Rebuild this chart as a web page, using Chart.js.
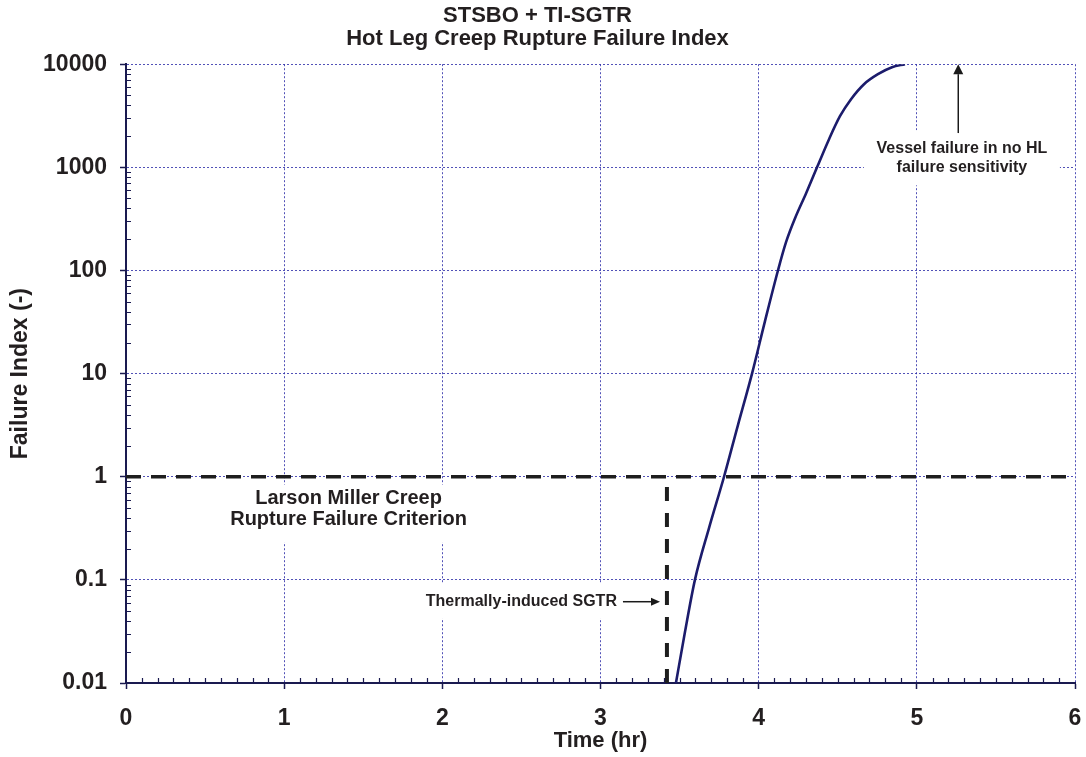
<!DOCTYPE html>
<html><head><meta charset="utf-8">
<script src="https://cdn.jsdelivr.net/npm/chart.js@4.4.0/dist/chart.umd.min.js"></script>
<style>html,body{margin:0;padding:0;background:#fff;} #wrap{width:1086px;height:757px;}</style>
</head><body><div id="wrap"><canvas id="c" width="1086" height="757"></canvas></div>
<script>
const titleLines = ['STSBO + TI-SGTR', 'Hot Leg Creep Rupture Failure Index'];
const xAxisTitle = 'Time (hr)';
const yAxisTitle = 'Failure Index (-)';
const xTickValues = [0, 1, 2, 3, 4, 5, 6];
const yTickValues = [0.01, 0.1, 1, 10, 100, 1000, 10000];
const yTickLabels = ['0.01', '0.1', '1', '10', '100', '1000', '10000'];

// Hot leg creep rupture failure index vs time
const timeHr = [3.477, 3.534, 3.597, 3.686, 3.781, 3.869, 3.958, 4.040, 4.122, 4.173, 4.230, 4.300, 4.369, 4.445, 4.514, 4.584, 4.666, 4.754, 4.843, 4.925];
const failureIndex = [0.01, 0.0312, 0.10, 0.318, 1.0, 3.17, 10, 32.3, 100, 188, 321, 561, 1000, 1875, 3130, 4580, 6400, 8000, 9350, 10000];

// Larson Miller criterion (index = 1)
const criterionTime = [0, 6];
const criterionIndex = [1, 1];
// Thermally-induced SGTR time marker
const sgtrTime = [3.42, 3.42];
const sgtrIndex = [0.01, 0.8];

const FONT = "'Liberation Sans', Arial, sans-serif";
const TXT = '#231f20';

function toPts(xs, ys) { return xs.map((x, i) => ({ x: x, y: ys[i] })); }

function arrow(ctx, x1, y1, x2, y2, headLen, halfW) {
  const ang = Math.atan2(y2 - y1, x2 - x1);
  const bx = x2 - headLen * Math.cos(ang), by = y2 - headLen * Math.sin(ang);
  ctx.save();
  ctx.strokeStyle = '#1a1a1a'; ctx.fillStyle = '#1a1a1a'; ctx.lineWidth = 1.5;
  ctx.beginPath(); ctx.moveTo(x1, y1); ctx.lineTo(bx, by); ctx.stroke();
  ctx.beginPath();
  ctx.moveTo(x2, y2);
  ctx.lineTo(bx + halfW * Math.sin(ang), by - halfW * Math.cos(ang));
  ctx.lineTo(bx - halfW * Math.sin(ang), by + halfW * Math.cos(ang));
  ctx.closePath(); ctx.fill();
  ctx.restore();
}

const minorTicks = {
  id: 'minorTicks',
  afterDraw(chart) {
    const { ctx, chartArea: a, scales: { x, y } } = chart;
    ctx.save();
    ctx.strokeStyle = '#1a1a50'; ctx.lineWidth = 1.2;
    ctx.beginPath();
    for (let i = 1; i < 60; i++) {
      if (i % 10 === 0) continue;
      const px = Math.round(x.getPixelForValue(i / 10)) + 0.5;
      ctx.moveTo(px, a.bottom); ctx.lineTo(px, a.bottom - 5);
    }
    for (let d = -2; d < 4; d++) {
      for (let k = 2; k <= 9; k++) {
        const py = Math.round(y.getPixelForValue(k * Math.pow(10, d))) + 0.5;
        ctx.moveTo(a.left, py); ctx.lineTo(a.left + 5, py);
      }
    }
    ctx.stroke();
    ctx.restore();
  }
};

const notes = {
  id: 'notes',
  afterDatasetsDraw(chart) {
    const { ctx, scales: { x, y } } = chart;
    ctx.save();
    ctx.textAlign = 'center'; ctx.textBaseline = 'middle'; ctx.fillStyle = TXT;

    // Vessel failure note
    let cx = x.getPixelForValue(5.285), cy = y.getPixelForValue(1250);
    ctx.fillStyle = '#fff';
    ctx.fillRect(cx - 98, cy - 27, 196, 55);
    ctx.fillStyle = TXT;
    ctx.font = 'bold 16px ' + FONT;
    ctx.fillText('Vessel failure in no HL', cx, cy - 9);
    ctx.fillText('failure sensitivity', cx, cy + 10);
    const ax = x.getPixelForValue(5.262);
    arrow(ctx, ax, y.getPixelForValue(2150), ax, y.getPixelForValue(10000), 10, 5);

    // Larson Miller note
    cx = x.getPixelForValue(1.407); cy = y.getPixelForValue(0.491);
    ctx.fillStyle = '#fff';
    ctx.fillRect(cx - 124, cy - 24, 248, 58);
    ctx.fillStyle = TXT;
    ctx.font = 'bold 20px ' + FONT;
    ctx.fillText('Larson Miller Creep', cx, cy - 10);
    ctx.fillText('Rupture Failure Criterion', cx, cy + 11);

    // SGTR note
    const rx = x.getPixelForValue(3.104); cy = y.getPixelForValue(0.0614);
    ctx.font = 'bold 16px ' + FONT;
    const w = ctx.measureText('Thermally-induced SGTR').width;
    ctx.fillStyle = '#fff';
    ctx.fillRect(rx - w - 8, cy - 18, w + 16, 35);
    ctx.fillStyle = TXT;
    ctx.textAlign = 'right';
    ctx.fillText('Thermally-induced SGTR', rx, cy);
    arrow(ctx, x.getPixelForValue(3.142), cy, x.getPixelForValue(3.376), cy, 9, 4);
    ctx.restore();
  }
};

const gridCommon = { color: 'rgba(50,50,170,0.85)', lineWidth: 1, tickLength: 6, tickColor: '#1a1a50', tickWidth: 1.5, tickBorderDash: [] };

new Chart(document.getElementById('c'), {
  type: 'scatter',
  data: {
    datasets: [
      { label: 'Criterion', data: toPts(criterionTime, criterionIndex), showLine: true, borderColor: '#1e1e1e', borderWidth: 3.5, borderDash: [15, 10], pointRadius: 0, order: 2 },
      { label: 'SGTR', data: toPts(sgtrTime, sgtrIndex), showLine: true, borderColor: '#1e1e1e', borderWidth: 4, borderDash: [14, 12], pointRadius: 0, order: 2 },
      { label: 'Failure Index', data: toPts(timeHr, failureIndex), showLine: true, borderColor: '#1c1c6c', borderWidth: 2.6, cubicInterpolationMode: 'monotone', pointRadius: 0, order: 1 }
    ]
  },
  options: {
    responsive: false, animation: false, devicePixelRatio: 1,
    layout: { padding: { left: 0, right: 11, top: 0, bottom: 0 } },
    plugins: {
      legend: { display: false }, tooltip: { enabled: false },
      title: { display: true, text: titleLines, color: TXT, font: { family: FONT, size: 22, weight: 'bold', lineHeight: 1.05 }, padding: { top: 4, bottom: 14 } }
    },
    scales: {
      x: {
        type: 'linear', min: 0, max: 6,
        afterBuildTicks: s => { s.ticks = xTickValues.map(v => ({ value: v })); },
        afterFit: s => { s.height = 74; s.paddingRight = 0; s.paddingLeft = 0; },
        ticks: { color: TXT, font: { family: FONT, size: 23, weight: 'bold' }, padding: 16, maxRotation: 0 },
        grid: Object.assign({}, gridCommon),
        border: { display: true, color: '#1a1a50', width: 2, dash: [2, 2] },
        title: { display: true, text: xAxisTitle, color: TXT, font: { family: FONT, size: 22, weight: 'bold' }, padding: { top: 0, bottom: 3 } }
      },
      y: {
        type: 'logarithmic', min: 0.01, max: 10000,
        afterBuildTicks: s => { s.ticks = yTickValues.map(v => ({ value: v })); },
        afterFit: s => { s.width = 126; },
        ticks: { color: TXT, font: { family: FONT, size: 23, weight: 'bold' }, padding: 13, callback: (v) => yTickLabels[yTickValues.indexOf(v)] },
        grid: Object.assign({}, gridCommon),
        border: { display: true, color: '#1a1a50', width: 2, dash: [2, 2] },
        title: { display: true, text: yAxisTitle, color: TXT, font: { family: FONT, size: 23, weight: 'bold' }, padding: { top: 7, bottom: 0 } }
      }
    }
  },
  plugins: [minorTicks, notes]
});
</script></body></html>
